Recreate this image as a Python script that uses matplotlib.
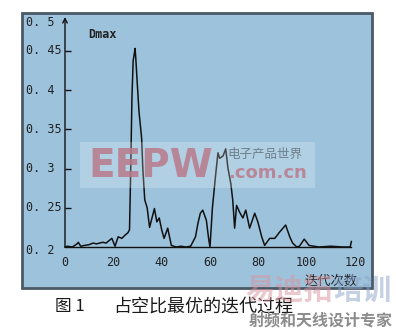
import matplotlib
matplotlib.use("Agg")
import matplotlib.pyplot as plt
from matplotlib.patches import Rectangle
from matplotlib.transforms import blended_transform_factory

# iteration number vs Dmax
iters = [0, 1, 3, 5, 5.5, 6.5, 8, 10, 11.6, 13, 15.7, 17, 19.4, 20.7, 22, 23.5,
         24.8, 26, 26.7, 27.2, 27.7, 28.2, 28.6, 29, 29.3, 29.6, 30.6, 31.7,
         32.2, 33, 34, 35, 37, 38, 39, 40, 41, 42.5, 44, 46, 48, 50, 52, 54,
         55, 56, 57, 58.5, 59.5, 60, 61, 62.4, 63.3, 64, 65.4, 66.5, 67.4,
         68.6, 69.4, 70.2, 71, 72.3, 73.6, 74.8, 76.4, 78.5, 79.8, 81.4, 82.6,
         84.7, 86.8, 88.8, 91.3, 93, 94.2, 95.9, 97, 99, 101, 103, 105, 110,
         115, 118, 118.5]
dmax = [0.2, 0.201, 0.2, 0.204, 0.206, 0.201, 0.202, 0.203, 0.205, 0.204,
        0.206, 0.205, 0.211, 0.201, 0.213, 0.211, 0.215, 0.218, 0.222, 0.3,
        0.39, 0.437, 0.445, 0.453, 0.44, 0.424, 0.373, 0.339, 0.3, 0.26, 0.25,
        0.225, 0.249, 0.232, 0.237, 0.222, 0.211, 0.224, 0.202, 0.2, 0.201,
        0.2, 0.201, 0.213, 0.23, 0.243, 0.247, 0.234, 0.209, 0.2, 0.25, 0.294,
        0.32, 0.313, 0.316, 0.325, 0.301, 0.281, 0.26, 0.224, 0.253, 0.244,
        0.237, 0.247, 0.224, 0.243, 0.232, 0.213, 0.202, 0.211, 0.211, 0.219,
        0.228, 0.213, 0.205, 0.2, 0.201, 0.21, 0.202, 0.201, 0.2, 0.201, 0.2,
        0.2, 0.207]

xticks = [0, 20, 40, 60, 80, 100, 120]
yticks = [0.2, 0.25, 0.3, 0.35, 0.4, 0.45]
ytick_labels = ["0. 2", "0. 25", "0. 3", "0. 35", "0. 4", "0. 45"]

W, H = 396, 331
cjk = ["Noto Sans CJK SC", "DejaVu Sans"]
mono = "DejaVu Sans Mono"


def fx(x):
    return x / W


def fy(y):
    return 1 - y / H


fig = plt.figure(figsize=(W / 100, H / 100), dpi=100)
fig.patch.set_facecolor("white")

# blue panel with dark frame
fig.patches.append(Rectangle((fx(22), fy(288)), fx(372) - fx(22), fy(13) - fy(288),
                             transform=fig.transFigure, facecolor="#9dc3dc",
                             edgecolor="#4b5a66", linewidth=2.0, zorder=-1))

ax = fig.add_axes([fx(65), fy(247), fx(355) - fx(65), fy(17) - fy(247)])
ax.set_zorder(0.5)
ax.patch.set_visible(False)
ax.set_xlim(0, 120)
ax.set_ylim(0.2, 0.493)
for s in ["top", "right", "left"]:
    ax.spines[s].set_visible(False)
ax.spines["bottom"].set_color("#111111")
ax.spines["bottom"].set_linewidth(1.0)
ax.spines["bottom"].set_bounds(0, 118.5)

ax.plot(iters, dmax, color="#111111", linewidth=1.1, clip_on=False)

# y axis with arrow
ax.annotate("", xy=(0, 0.493), xytext=(0, 0.2),
            arrowprops=dict(arrowstyle="->", color="#111111", lw=1.0,
                            shrinkA=0, shrinkB=0, mutation_scale=8))
ax.set_yticks(yticks[1:])
ax.tick_params(axis="y", direction="in", length=4, width=1.0, color="#111111",
               labelleft=False, pad=0)
ax.set_xticks(xticks)
ax.tick_params(axis="x", direction="in", length=0, labelbottom=False)

tr = blended_transform_factory(fig.transFigure, ax.transData)
for v, lab in zip(yticks, ytick_labels):
    yy = v - 0.005 if v == 0.2 else v
    ax.text(fx(26), yy, lab, transform=tr, ha="left", va="center",
            fontsize=8.5, family=mono, color="#222222", clip_on=False)
ax.text(fx(26), 0.486, "0. 5", transform=tr, ha="left", va="center",
        fontsize=8.5, family=mono, color="#222222", clip_on=False)

trx = blended_transform_factory(ax.transData, fig.transFigure)
for v in xticks:
    ax.text(v, fy(262), str(v), transform=trx, ha="center", va="center",
            fontsize=8.5, family=mono, color="#222222", clip_on=False)

fig.text(fx(88), fy(34), "Dmax", ha="left", va="center", fontsize=8.5,
         family=mono, weight="bold", color="#222222")
fig.text(fx(331), fy(281), "迭代次数", ha="center", va="center", fontsize=9.5,
         family=cjk, color="#222222")

# watermark box
fig.patches.append(Rectangle((fx(80), fy(188)), fx(315) - fx(80), fy(142) - fy(188),
                             transform=fig.transFigure, facecolor="white",
                             alpha=0.22, edgecolor="none", zorder=1))
fig.text(fx(88), fy(166), "EEPW", ha="left", va="center", fontsize=28,
         weight="bold", color="#b9798a", alpha=0.85, zorder=2)
fig.text(fx(265), fy(154), "电子产品世界", ha="center", va="center", fontsize=9,
         family=cjk, color="#6c7f8c", zorder=2)
fig.text(fx(267), fy(173), ".com.cn", ha="center", va="center", fontsize=13,
         weight="bold", color="#b9798a", alpha=0.85, zorder=2)

# caption
fig.text(fx(55), fy(307), "图 1", ha="left", va="center", fontsize=12,
         family=cjk, color="#1a1a1a")
fig.text(fx(113), fy(307), "占空比最优的迭代过程", ha="left", va="center",
         fontsize=13, family=cjk, color="#1a1a1a")

# bottom-right watermark
fig.text(fx(245), fy(290), "易迪拓", ha="left", va="center", fontsize=21,
         family=cjk, weight="bold", color="#d9929c", alpha=0.5)
fig.text(fx(333), fy(290), "培训", ha="left", va="center", fontsize=21,
         family=cjk, weight="bold", color="#8aa2c8", alpha=0.5)
fig.text(fx(393), fy(320), "射频和天线设计专家", ha="right", va="center",
         fontsize=11.5, family=cjk, weight="bold", color="#8c8c8c")

fig.savefig("out.png", dpi=100)
